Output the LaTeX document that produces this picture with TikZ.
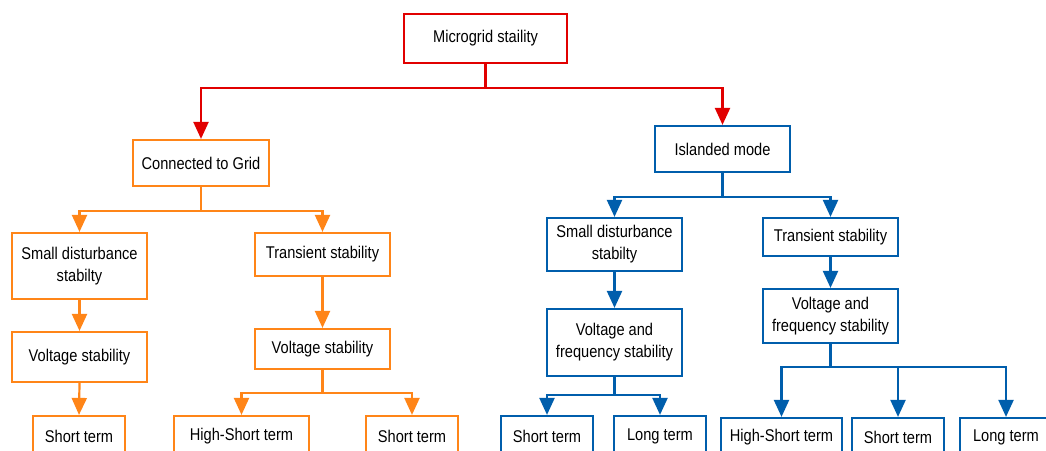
\documentclass[tikz,border=0pt]{standalone}
\usepackage{fontspec}
\setmainfont[FakeStretch=0.86]{Liberation Sans}
\usetikzlibrary{arrows.meta}
\definecolor{cred}{RGB}{225,0,0}
\definecolor{corange}{RGB}{255,133,24}
\definecolor{cblue}{RGB}{0,94,172}
\tikzset{
  box/.style={draw, line width=2.2pt, fill=white, rectangle, align=center, inner sep=2pt,
    font=\fontsize{17}{22}\selectfont, text=black},
  conn/.style={line width=2.2pt},
  arr/.style={conn, -{Triangle[length=17pt,width=15pt]}},
}
\begin{document}
\begin{tikzpicture}[x=1pt,y=-1pt]
\clip (0,0) rectangle (1046,450);
\fill[white] (0,0) rectangle (1046,450);
% nodes
\node[box, draw=cred, minimum width=163pt, minimum height=49pt] (root) at (485.5,38.5) {Microgrid staility};
\node[box, draw=corange, minimum width=136pt, minimum height=46pt] (cg) at (201,163) {Connected to Grid};
\node[box, draw=cblue, minimum width=135pt, minimum height=46pt] (im) at (722.5,149) {Islanded mode};
% orange
\node[box, draw=corange, minimum width=135pt, minimum height=66pt] (osd) at (79.5,266) {Small disturbance\\stabilty};
\node[box, draw=corange, minimum width=135pt, minimum height=43pt] (ots) at (322.5,254.5) {Transient stability};
\node[box, draw=corange, minimum width=135pt, minimum height=50pt] (ovs1) at (79.5,357) {Voltage stability};
\node[box, draw=corange, minimum width=135pt, minimum height=40pt] (ovs2) at (322.5,349) {Voltage stability};
\node[box, draw=corange, minimum width=92pt, minimum height=40pt] (ost1) at (79,436) {Short term};
\node[box, draw=corange, minimum width=135pt, minimum height=40pt] (ohs) at (241.5,436) {High-Short term};
\node[box, draw=corange, minimum width=92pt, minimum height=40pt] (ost2) at (412,436) {Short term};
% blue
\node[box, draw=cblue, minimum width=135pt, minimum height=53pt] (bsd) at (614.5,244.5) {Small disturbance\\stabilty};
\node[box, draw=cblue, minimum width=135pt, minimum height=38pt] (bts) at (830.5,237) {Transient stability};
\node[box, draw=cblue, minimum width=135pt, minimum height=67pt] (bvf1) at (614.5,342.5) {Voltage and\\frequency stability};
\node[box, draw=cblue, minimum width=135pt, minimum height=54pt] (bvf2) at (830.5,316) {Voltage and\\frequency stability};
\node[box, draw=cblue, minimum width=92pt, minimum height=40pt] (bst1) at (547,436) {Short term};
\node[box, draw=cblue, minimum width=92pt, minimum height=40pt] (blt1) at (660,436) {Long term};
\node[box, draw=cblue, minimum width=121pt, minimum height=38pt] (bhs) at (781.5,437) {High-Short term};
\node[box, draw=cblue, minimum width=92pt, minimum height=38pt] (bst2) at (898,437) {Short term};
\node[box, draw=cblue, minimum width=92pt, minimum height=38pt] (blt2) at (1006,437) {Long term};
% junctions
\coordinate (j0) at (485.5,88);
\coordinate (j1) at (201,211);
\coordinate (j2) at (322.5,393);
\coordinate (j3) at (722.5,197);
\coordinate (j4) at (614.5,395);
\coordinate (j5) at (830.5,367);
% red connectors
\draw[conn, cred] (root.south) -- (j0);
\draw[arr, cred] (j0) -| (cg.north);
\draw[arr, cred] (j0) -| (im.north);
% orange connectors
\draw[conn, corange] (cg.south) -- (j1);
\draw[arr, corange] (j1) -| (osd.north);
\draw[arr, corange] (j1) -| (ots.north);
\draw[arr, corange] (osd.south) -- (ovs1.north);
\draw[arr, corange] (ots.south) -- (ovs2.north);
\draw[arr, corange] (ovs1.south) -- (ost1.north);
\draw[conn, corange] (ovs2.south) -- (j2);
\draw[arr, corange] (j2) -| (ohs.north);
\draw[arr, corange] (j2) -| (ost2.north);
% blue connectors
\draw[conn, cblue] (im.south) -- (j3);
\draw[arr, cblue] (j3) -| (bsd.north);
\draw[arr, cblue] (j3) -| (bts.north);
\draw[arr, cblue] (bsd.south) -- (bvf1.north);
\draw[arr, cblue] (bts.south) -- (bvf2.north);
\draw[conn, cblue] (bvf1.south) -- (j4);
\draw[arr, cblue] (j4) -| (bst1.north);
\draw[arr, cblue] (j4) -| (blt1.north);
\draw[conn, cblue] (bvf2.south) -- (j5);
\draw[arr, cblue] (j5) -| (bhs.north);
\draw[arr, cblue] (j5) -| (bst2.north);
\draw[arr, cblue] (j5) -| (blt2.north);
\end{tikzpicture}
\end{document}
